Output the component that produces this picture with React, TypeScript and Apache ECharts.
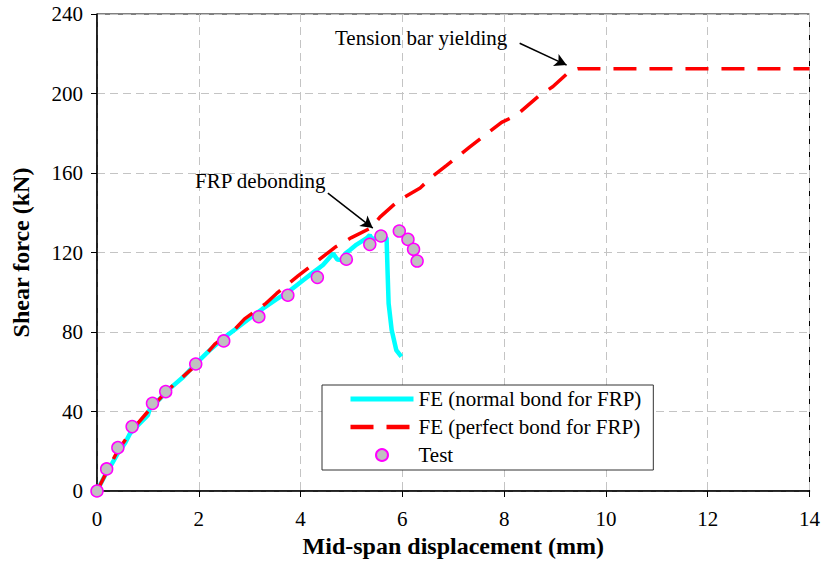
import React, { useEffect, useRef } from "react";
import * as echarts from "echarts";

// ---- data ----
const normalBondDisp = [0, 0.08, 0.16, 0.3, 0.41, 0.55, 0.65, 0.8, 1.0, 1.04, 1.2, 1.43, 1.7, 1.94, 2.2, 2.48, 2.75, 3.0, 3.25, 3.53, 3.8, 4.05, 4.25, 4.44, 4.64, 4.72, 4.8, 4.88, 4.97, 5.1, 5.3, 5.36, 5.41, 5.5, 5.6, 5.69, 5.71, 5.73, 5.79, 5.88, 5.98];
const normalBondForce = [0, 4, 8, 14, 19, 24, 29, 33, 38.2, 41.6, 45.5, 51.5, 57.5, 64, 70.5, 76.8, 82, 86.9, 91.6, 96.5, 101, 106, 110, 113.7, 119.5, 116.5, 116.2, 119.5, 121.3, 124, 127.2, 128.8, 126.3, 127.8, 128.5, 127.3, 110, 94.4, 81, 70.9, 67.6];

const perfectBondDisp = [0, 0.2, 0.4, 0.7, 1.0, 1.4, 2.0, 2.32, 2.68, 2.9, 3.3, 3.53, 3.95, 4.25, 4.67, 5.0, 5.39, 5.56, 5.92, 6.35, 6.6, 6.87, 7.32, 7.95, 8.24, 8.67, 8.96, 9.3, 9.45, 14];
const perfectBondForce = [0, 10, 20, 31, 40, 51, 64.5, 74, 80.6, 86.6, 94, 99.4, 108.2, 114.1, 122.5, 127.5, 132.5, 137.8, 146, 152.5, 158.5, 163.8, 173, 185.5, 189, 198.5, 203.5, 211.5, 212.5, 212.5];

const testDisp = [0, 0.19, 0.41, 0.69, 1.09, 1.35, 1.94, 2.49, 3.18, 3.75, 4.33, 4.9, 5.36, 5.58, 5.94, 6.11, 6.22, 6.29];
const testForce = [0, 11.1, 21.8, 32.4, 44.1, 50, 63.9, 75.5, 87.7, 98.5, 107.5, 116.6, 124.1, 128.3, 130.8, 126.6, 121.6, 115.7];

const seriesNames = ["FE (normal bond for FRP)", "FE (perfect bond for FRP)", "Test"];
const xTickValues = [0, 2, 4, 6, 8, 10, 12, 14];
const yTickValues = [0, 40, 80, 120, 160, 200, 240];

// annotation arrows [start, end] in data coordinates
const arrowFrpDebonding = [[4.536, 149.9], [5.419, 132.3]];
const arrowTensionYield = [[8.305, 225.3], [9.228, 214.3]];

const FONT = "'Liberation Serif', 'Times New Roman', serif";

const zip = (a: number[], b: number[]) => a.map((v, i) => [v, b[i]]);

export default function App() {
  const ref = useRef<HTMLDivElement>(null);

  useEffect(() => {
    document.body.style.margin = "0";
    if (!ref.current) return;
    const chart = echarts.init(ref.current, undefined, { renderer: "svg" });

    const option: any = {
      animation: false,
      backgroundColor: "#fff",
      grid: {
        left: 97,
        right: 13,
        top: 14,
        bottom: 77,
        show: true,
        borderColor: "#000",
        borderWidth: 1,
        backgroundColor: "transparent",
      },
      xAxis: {
        type: "value",
        min: xTickValues[0],
        max: xTickValues[xTickValues.length - 1],
        interval: 2,
        name: "Mid-span displacement (mm)",
        nameLocation: "middle",
        nameGap: 43,
        nameTextStyle: { fontFamily: FONT, fontSize: 24, fontWeight: "bold", color: "#000" },
        axisLine: { lineStyle: { color: "#000", width: 1.5 } },
        axisTick: { show: true, inside: false, length: 6, lineStyle: { color: "#000", width: 1 } },
        axisLabel: { fontFamily: FONT, fontSize: 21, color: "#000", margin: 17 },
        splitLine: { show: true, lineStyle: { color: "#c4c4c4", type: [8, 5], width: 1 } },
      },
      yAxis: {
        type: "value",
        min: yTickValues[0],
        max: yTickValues[yTickValues.length - 1],
        interval: 40,
        name: "Shear force (kN)",
        nameLocation: "middle",
        nameGap: 64,
        nameTextStyle: { fontFamily: FONT, fontSize: 24, fontWeight: "bold", color: "#000" },
        axisLine: { lineStyle: { color: "#000", width: 1.5 } },
        axisTick: { show: true, inside: false, length: 6, lineStyle: { color: "#000", width: 1 } },
        axisLabel: { fontFamily: FONT, fontSize: 21, color: "#000", margin: 14 },
        splitLine: { show: true, lineStyle: { color: "#c4c4c4", type: [8, 5], width: 1 } },
      },
      legend: {
        orient: "vertical",
        left: 322,
        top: 385,
        itemWidth: 63,
        itemHeight: 12,
        itemGap: 6,
        padding: [3, 12, 4, 26],
        borderColor: "#333",
        borderWidth: 1,
        backgroundColor: "#fff",
        textStyle: { fontFamily: FONT, fontSize: 21, color: "#000", lineHeight: 22 },
        data: [
          { name: seriesNames[0], itemStyle: { opacity: 0 }, lineStyle: { width: 5 } },
          { name: seriesNames[1], itemStyle: { opacity: 0 }, lineStyle: { width: 4.5 } },
          { name: seriesNames[2] },
        ],
      },
      graphic: [
        {
          type: "text",
          z: 100,
          style: { text: "FRP debonding", x: 195, y: 181, fontFamily: FONT, fontSize: 21, fill: "#000", verticalAlign: "middle", textAlign: "left" },
        },
        {
          type: "text",
          z: 100,
          style: { text: "Tension bar yielding", x: 335, y: 38, fontFamily: FONT, fontSize: 21, fill: "#000", verticalAlign: "middle", textAlign: "left" },
        },
      ],
      series: [
        {
          name: seriesNames[0],
          type: "line",
          data: zip(normalBondDisp, normalBondForce),
          symbol: "none",
          lineStyle: { color: "#00ffff", width: 4.5 },
          itemStyle: { color: "#00ffff" },
          z: 2,
          silent: true,
        },
        {
          name: seriesNames[1],
          type: "line",
          data: zip(perfectBondDisp, perfectBondForce),
          symbol: "none",
          lineStyle: { color: "#ff0000", width: 3.5, type: [23, 13] },
          itemStyle: { color: "#ff0000" },
          z: 3,
          silent: true,
        },
        {
          name: seriesNames[2],
          type: "scatter",
          data: zip(testDisp, testForce),
          symbol: "circle",
          symbolSize: 12,
          itemStyle: { color: "#c0c0c0", borderColor: "#ff00ff", borderWidth: 1.5, opacity: 1 },
          z: 4,
          silent: true,
          markLine: {
            silent: true,
            symbol: ["none", "arrow"],
            symbolSize: [10, 12],
            label: { show: false },
            lineStyle: { color: "#000", width: 1.5, type: "solid" },
            data: [
              [{ coord: arrowFrpDebonding[0] }, { coord: arrowFrpDebonding[1] }],
              [{ coord: arrowTensionYield[0] }, { coord: arrowTensionYield[1] }],
            ],
          },
        },
      ],
    };

    chart.setOption(option);
    return () => chart.dispose();
  }, []);

  return <div ref={ref} style={{ width: 823, height: 568 }} />;
}
